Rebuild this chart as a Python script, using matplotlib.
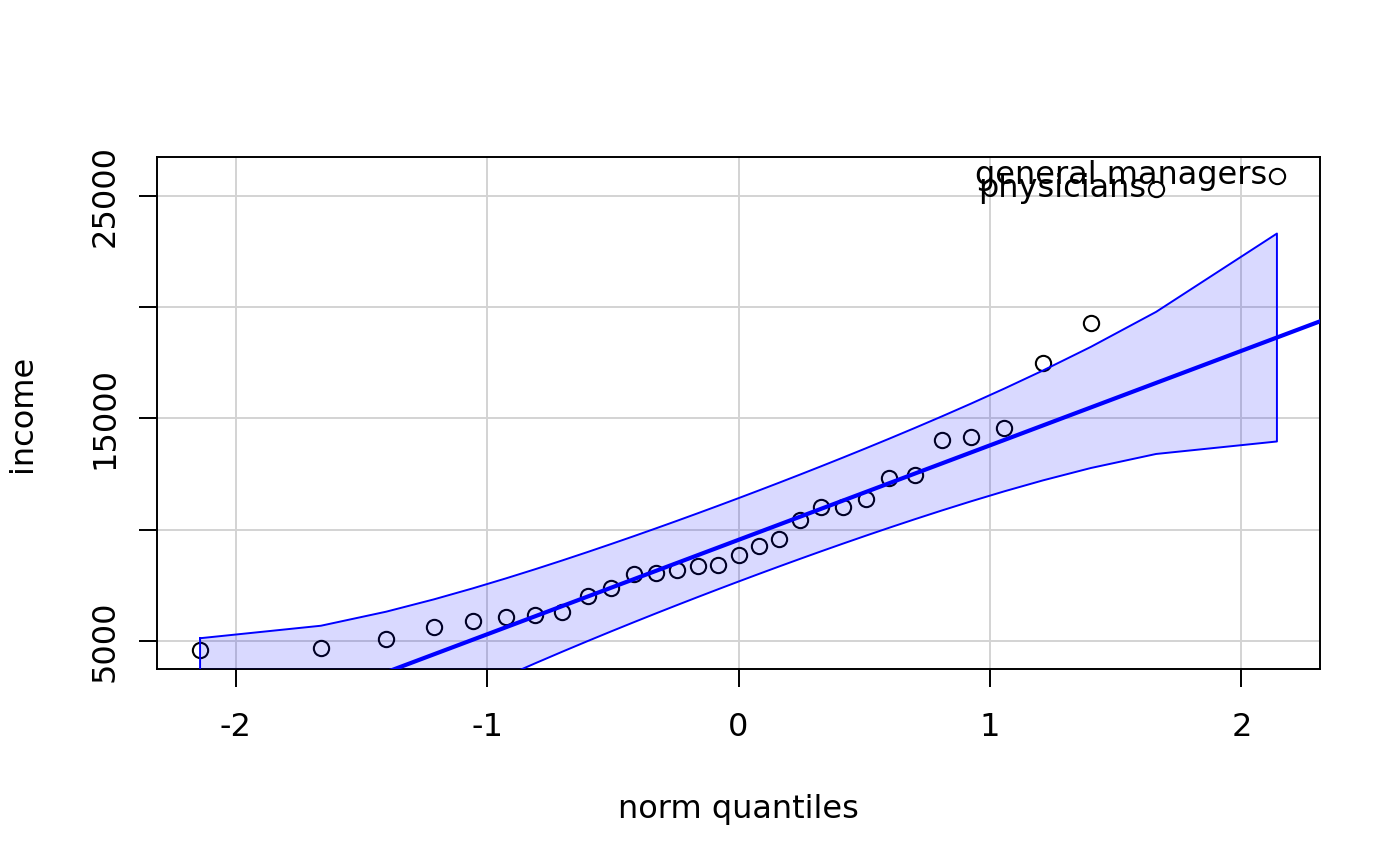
import numpy as np
import matplotlib
matplotlib.use("Agg")
from matplotlib import pyplot as plt
from statistics import NormalDist

# income of the 31 professional occupations, sorted
income = [4614, 4686, 5092, 5648, 5902, 6112, 6197, 6336, 7059, 7405,
          8034, 8049, 8206, 8403, 8425, 8865, 9271, 9593, 10432, 11023,
          11030, 11377, 12351, 12480, 14032, 14163, 14558, 17498, 19263,
          25308, 25879]
# points that get a name next to them
label_names = ["general managers", "physicians"]
label_values = [25879, 25308]

x_ticks = [-2, -1, 0, 1, 2]
y_ticks = [5000, 10000, 15000, 20000, 25000]
y_tick_labels = ["5000", "", "15000", "", "25000"]

plt.rcParams["font.family"] = "DejaVu Sans"
plt.rcParams["axes.unicode_minus"] = False

nd = NormalDist()
y = np.sort(np.array(income, dtype=float))
n = len(y)
P = (np.arange(1, n + 1) - 0.5) / n          # ppoints(n)
z = np.array([nd.inv_cdf(p) for p in P])

# quartile line, like car::qqPlot
q1, q3 = np.percentile(y, [25, 75])
zq = np.array([nd.inv_cdf(0.25), nd.inv_cdf(0.75)])
slope = (q3 - q1) / (zq[1] - zq[0])
intercept = q1 - slope * zq[0]

# pointwise 95% envelope
dens = np.array([nd.pdf(v) for v in z])
se = (slope / dens) * np.sqrt(P * (1 - P) / n)
zz = nd.inv_cdf(0.975)
fit = intercept + slope * z
upper = fit + zz * se
lower = fit - zz * se

fs = 23
fig = plt.figure(figsize=(14, 8.66), dpi=100)
ax = fig.add_axes([157 / 1400, 1 - 669 / 866, (1320 - 157) / 1400, (669 - 157) / 866])

xr = z.max() - z.min()
ax.set_xlim(z.min() - 0.04 * xr, z.max() + 0.04 * xr)
yr = y.max() - y.min()
ax.set_ylim(y.min() - 0.04 * yr, y.max() + 0.04 * yr)

ax.set_xticks(x_ticks)
ax.set_xticklabels([str(t) for t in x_ticks])
ax.set_yticks(y_ticks)
ax.set_yticklabels(y_tick_labels, rotation=90, va="center")

ax.grid(True, color="lightgray", lw=1.4)
ax.set_axisbelow(True)

ax.plot(z, y, "o", mfc="none", mec="black", ms=11, mew=1.5, zorder=3)

xs = np.array(ax.get_xlim())
ax.plot(xs, intercept + slope * xs, color="blue", lw=3.0, zorder=4)

env_x = np.concatenate([z, z[::-1], z[:1]])
env_y = np.concatenate([upper, lower[::-1], upper[:1]])
ax.fill(env_x, env_y, color="blue", alpha=0.15, lw=0, zorder=4)
ax.plot(env_x, env_y, color="blue", lw=1.4, zorder=4)

for name, val in zip(label_names, label_values):
    i = int(np.argmin(np.abs(y - val)))
    ax.annotate(name, (z[i], y[i]), xytext=(-7, 0), textcoords="offset points",
                ha="right", va="center", fontsize=fs, zorder=5)

for s in ax.spines.values():
    s.set_linewidth(1.4)
ax.tick_params(axis="both", length=13, width=1.4, labelsize=fs)
ax.tick_params(axis="x", pad=18)
ax.tick_params(axis="y", pad=13)

ax.set_xlabel("norm quantiles", fontsize=fs, labelpad=37)
ax.set_ylabel("income", fontsize=fs, labelpad=37)

fig.savefig("out.png", dpi=100)
